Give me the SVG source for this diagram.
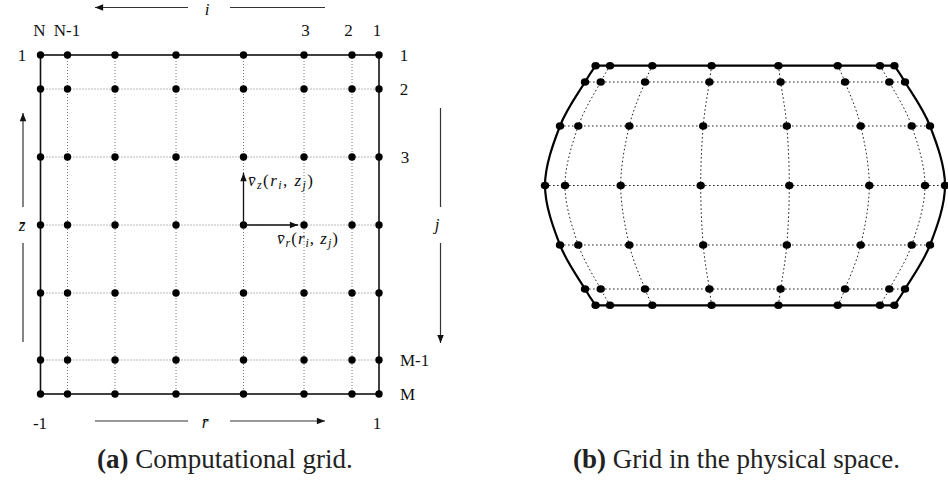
<svg xmlns="http://www.w3.org/2000/svg" xmlns:xlink="http://www.w3.org/1999/xlink" width="948" height="482" viewBox="0 0 948 482">
<style>
.lbl{font-size:17px;fill:#111}
.it{font-style:italic}
.cap{font-size:27px;fill:#222}
.b{font-weight:bold}
.bnd{fill:none;stroke:#111;stroke-width:1.6}
.bnd2{fill:none;stroke:#000;stroke-width:2.2;stroke-linejoin:round}
.dot{fill:none;stroke:#777;stroke-width:1;stroke-dasharray:1 2}
.dot2{fill:none;stroke:#222;stroke-width:1;stroke-dasharray:1.6 2.4}
.ax{stroke:#333;stroke-width:1.2;fill:none}
.vec{stroke:#111;stroke-width:1.3;fill:none}
.n{fill:#000}
</style>
<defs>
<marker id="ah" viewBox="0 0 10 8" refX="10" refY="4" markerWidth="9" markerHeight="6.5" markerUnits="userSpaceOnUse" orient="auto"><path d="M0,0 L10,4 L0,8 z" fill="#111"/></marker>
<g id="qcols">
<path d="M 610 65.7 C 608.45 68.42, 605.98 71.95, 600.7 82 C 595.42 92.05, 584.25 108.75, 578.3 126 C 572.35 143.25, 565 165.67, 565 185.5"/>
<path d="M 652.3 65.7 C 651.08 68.42, 648.83 71.95, 645 82 C 641.17 92.05, 633.35 108.75, 629.3 126 C 625.25 143.25, 620.7 165.67, 620.7 185.5"/>
<path d="M 711.6 65.7 C 711.23 68.42, 710.8 71.95, 709.4 82 C 708.0 92.05, 704.65 108.75, 703.2 126 C 701.75 143.25, 700.7 165.67, 700.7 185.5"/>
</g>
<g id="bdtop">
<ellipse cx="595.6" cy="65.7" rx="4.2" ry="3.8"/><ellipse cx="610" cy="65.7" rx="4.2" ry="3.8"/><ellipse cx="652.3" cy="65.7" rx="4.2" ry="3.8"/><ellipse cx="711.6" cy="65.7" rx="4.2" ry="3.8"/><ellipse cx="778.4" cy="65.7" rx="4.2" ry="3.8"/><ellipse cx="837.7" cy="65.7" rx="4.2" ry="3.8"/><ellipse cx="880" cy="65.7" rx="4.2" ry="3.8"/><ellipse cx="894.4" cy="65.7" rx="4.2" ry="3.8"/>
<ellipse cx="585" cy="82" rx="4.2" ry="3.8"/><ellipse cx="600.7" cy="82" rx="4.2" ry="3.8"/><ellipse cx="645" cy="82" rx="4.2" ry="3.8"/><ellipse cx="709.4" cy="82" rx="4.2" ry="3.8"/><ellipse cx="780.6" cy="82" rx="4.2" ry="3.8"/><ellipse cx="845" cy="82" rx="4.2" ry="3.8"/><ellipse cx="889.3" cy="82" rx="4.2" ry="3.8"/><ellipse cx="905" cy="82" rx="4.2" ry="3.8"/>
<ellipse cx="560" cy="126" rx="4.2" ry="3.8"/><ellipse cx="578.3" cy="126" rx="4.2" ry="3.8"/><ellipse cx="629.3" cy="126" rx="4.2" ry="3.8"/><ellipse cx="703.2" cy="126" rx="4.2" ry="3.8"/><ellipse cx="786.8" cy="126" rx="4.2" ry="3.8"/><ellipse cx="860.7" cy="126" rx="4.2" ry="3.8"/><ellipse cx="911.7" cy="126" rx="4.2" ry="3.8"/><ellipse cx="930" cy="126" rx="4.2" ry="3.8"/>
</g>
</defs>

<!-- (a) computational grid -->
<g id="grid-a">
<g id="grid-a-lines">
<path class="dot" d="M40.5 89H379M40.5 157H379M40.5 225H379M40.5 293H379M40.5 360H379"/>
<path class="dot" d="M67.5 55V394M115 55V394M176 55V394M243.5 55V394M304 55V394M352 55V394"/>
<rect class="bnd" x="40.5" y="55" width="338.5" height="339"/>
</g>
<g id="grid-a-nodes" class="n">
<circle cx="40.5" cy="55" r="3.7"/><circle cx="67.5" cy="55" r="3.7"/><circle cx="115" cy="55" r="3.7"/><circle cx="176" cy="55" r="3.7"/><circle cx="243.5" cy="55" r="3.7"/><circle cx="304" cy="55" r="3.7"/><circle cx="352" cy="55" r="3.7"/><circle cx="379" cy="55" r="3.7"/>
<circle cx="40.5" cy="89" r="3.7"/><circle cx="67.5" cy="89" r="3.7"/><circle cx="115" cy="89" r="3.7"/><circle cx="176" cy="89" r="3.7"/><circle cx="243.5" cy="89" r="3.7"/><circle cx="304" cy="89" r="3.7"/><circle cx="352" cy="89" r="3.7"/><circle cx="379" cy="89" r="3.7"/>
<circle cx="40.5" cy="157" r="3.7"/><circle cx="67.5" cy="157" r="3.7"/><circle cx="115" cy="157" r="3.7"/><circle cx="176" cy="157" r="3.7"/><circle cx="243.5" cy="157" r="3.7"/><circle cx="304" cy="157" r="3.7"/><circle cx="352" cy="157" r="3.7"/><circle cx="379" cy="157" r="3.7"/>
<circle cx="40.5" cy="225" r="3.7"/><circle cx="67.5" cy="225" r="3.7"/><circle cx="115" cy="225" r="3.7"/><circle cx="176" cy="225" r="3.7"/><circle cx="243.5" cy="225" r="3.7"/><circle cx="304" cy="225" r="3.7"/><circle cx="352" cy="225" r="3.7"/><circle cx="379" cy="225" r="3.7"/>
<circle cx="40.5" cy="293" r="3.7"/><circle cx="67.5" cy="293" r="3.7"/><circle cx="115" cy="293" r="3.7"/><circle cx="176" cy="293" r="3.7"/><circle cx="243.5" cy="293" r="3.7"/><circle cx="304" cy="293" r="3.7"/><circle cx="352" cy="293" r="3.7"/><circle cx="379" cy="293" r="3.7"/>
<circle cx="40.5" cy="360" r="3.7"/><circle cx="67.5" cy="360" r="3.7"/><circle cx="115" cy="360" r="3.7"/><circle cx="176" cy="360" r="3.7"/><circle cx="243.5" cy="360" r="3.7"/><circle cx="304" cy="360" r="3.7"/><circle cx="352" cy="360" r="3.7"/><circle cx="379" cy="360" r="3.7"/>
<circle cx="40.5" cy="394" r="3.7"/><circle cx="67.5" cy="394" r="3.7"/><circle cx="115" cy="394" r="3.7"/><circle cx="176" cy="394" r="3.7"/><circle cx="243.5" cy="394" r="3.7"/><circle cx="304" cy="394" r="3.7"/><circle cx="352" cy="394" r="3.7"/><circle cx="379" cy="394" r="3.7"/>
</g>
</g>

<!-- axis arrows and velocity vectors -->
<g id="connectors">
<line class="ax" x1="188" y1="7.5" x2="95" y2="7.5" marker-end="url(#ah)"/>
<line class="ax" x1="230" y1="7.5" x2="325" y2="7.5"/>
<line class="ax" x1="23" y1="207" x2="23" y2="113" marker-end="url(#ah)"/>
<line class="ax" x1="23" y1="243" x2="23" y2="342"/>
<line class="ax" x1="440.5" y1="108" x2="440.5" y2="207"/>
<line class="ax" x1="440.5" y1="243" x2="440.5" y2="343" marker-end="url(#ah)"/>
<line class="ax" x1="95" y1="421" x2="188" y2="421"/>
<line class="ax" x1="230" y1="421" x2="325" y2="421" marker-end="url(#ah)"/>
<line class="vec" x1="243.5" y1="225" x2="243.5" y2="173" marker-end="url(#ah)"/>
<line class="vec" x1="243.5" y1="225" x2="298" y2="225" marker-end="url(#ah)"/>
</g>

<g id="labels-a" class="lbl" font-family="Liberation Serif, Times New Roman, Times, serif">
<text x="207" y="14.5" class="it" text-anchor="middle">i</text>
<text x="39.5" y="36" text-anchor="middle">N</text>
<text x="67" y="36" text-anchor="middle">N-1</text>
<text x="305.5" y="36" text-anchor="middle">3</text>
<text x="348.5" y="36" text-anchor="middle">2</text>
<text x="377" y="36" text-anchor="middle">1</text>
<text x="22" y="61" text-anchor="middle">1</text>
<text x="404" y="61" text-anchor="middle">1</text>
<text x="404" y="95" text-anchor="middle">2</text>
<text x="405" y="163" text-anchor="middle">3</text>
<text x="400" y="366">M-1</text>
<text x="400" y="400">M</text>
<text x="22" y="231" class="it" text-anchor="middle">z̄</text>
<text x="437" y="230" class="it" text-anchor="middle">j</text>
<text x="40" y="429" text-anchor="middle">-1</text>
<text x="205" y="428" class="it" text-anchor="middle">r̄</text>
<text x="377" y="429" text-anchor="middle">1</text>
<text x="248" y="186" textLength="65" lengthAdjust="spacing"><tspan class="it">v̄</tspan><tspan class="it" font-size="12" dy="3">z</tspan><tspan dy="-3">(</tspan><tspan class="it">r</tspan><tspan class="it" font-size="12" dy="3">i</tspan><tspan dy="-3">, </tspan><tspan class="it">z</tspan><tspan class="it" font-size="12" dy="3">j</tspan><tspan dy="-3">)</tspan></text>
<text x="277" y="244" textLength="61" lengthAdjust="spacing"><tspan class="it">v̄</tspan><tspan class="it" font-size="12" dy="3">r</tspan><tspan dy="-3">(</tspan><tspan class="it">r</tspan><tspan class="it" font-size="12" dy="3">i</tspan><tspan dy="-3">, </tspan><tspan class="it">z</tspan><tspan class="it" font-size="12" dy="3">j</tspan><tspan dy="-3">)</tspan></text>
</g>

<!-- (b) physical grid -->
<g id="grid-b">
<g id="grid-b-lines">
<path class="dot2" d="M585 82H905M560 126H930M545 185.5H945M560 245H930M585 289H905"/>
<g class="dot2">
<use xlink:href="#qcols"/>
<use xlink:href="#qcols" transform="matrix(1 0 0 -1 0 371)"/>
<use xlink:href="#qcols" transform="matrix(-1 0 0 1 1490 0)"/>
<use xlink:href="#qcols" transform="matrix(-1 0 0 -1 1490 371)"/>
</g>
<path class="bnd2" d="M595.6 65.7 C593.83 68.42,590.93 71.95,585 82 C579.07 92.05,566.67 108.75,560 126 C553.33 143.25,545 165.67,545 185.5 C545 205.33,553.33 227.75,560 245 C566.67 262.25,579.07 278.95,585 289 C590.93 299.05,593.83 302.58,595.6 305.3 L894.4 305.3 C896.17 302.58,899.07 299.05,905 289 C910.93 278.95,923.33 262.25,930 245 C936.67 227.75,945 205.33,945 185.5 C945 165.67,936.67 143.25,930 126 C923.33 108.75,910.93 92.05,905 82 C899.07 71.95,896.17 68.42,894.4 65.7 Z"/>
</g>
<g id="grid-b-nodes" class="n">
<use xlink:href="#bdtop"/>
<use xlink:href="#bdtop" transform="matrix(1 0 0 -1 0 371)"/>
<ellipse cx="545" cy="185.5" rx="4.2" ry="3.8"/><ellipse cx="565" cy="185.5" rx="4.2" ry="3.8"/><ellipse cx="620.7" cy="185.5" rx="4.2" ry="3.8"/><ellipse cx="700.7" cy="185.5" rx="4.2" ry="3.8"/><ellipse cx="789.3" cy="185.5" rx="4.2" ry="3.8"/><ellipse cx="869.3" cy="185.5" rx="4.2" ry="3.8"/><ellipse cx="925" cy="185.5" rx="4.2" ry="3.8"/><ellipse cx="945" cy="185.5" rx="4.2" ry="3.8"/>
</g>
</g>

<g id="captions" class="cap" font-family="Liberation Serif, Times New Roman, Times, serif">
<text x="97" y="468"><tspan class="b">(a)</tspan> Computational grid.</text>
<text x="573" y="468"><tspan class="b">(b)</tspan> Grid in the physical space.</text>
</g>
</svg>
